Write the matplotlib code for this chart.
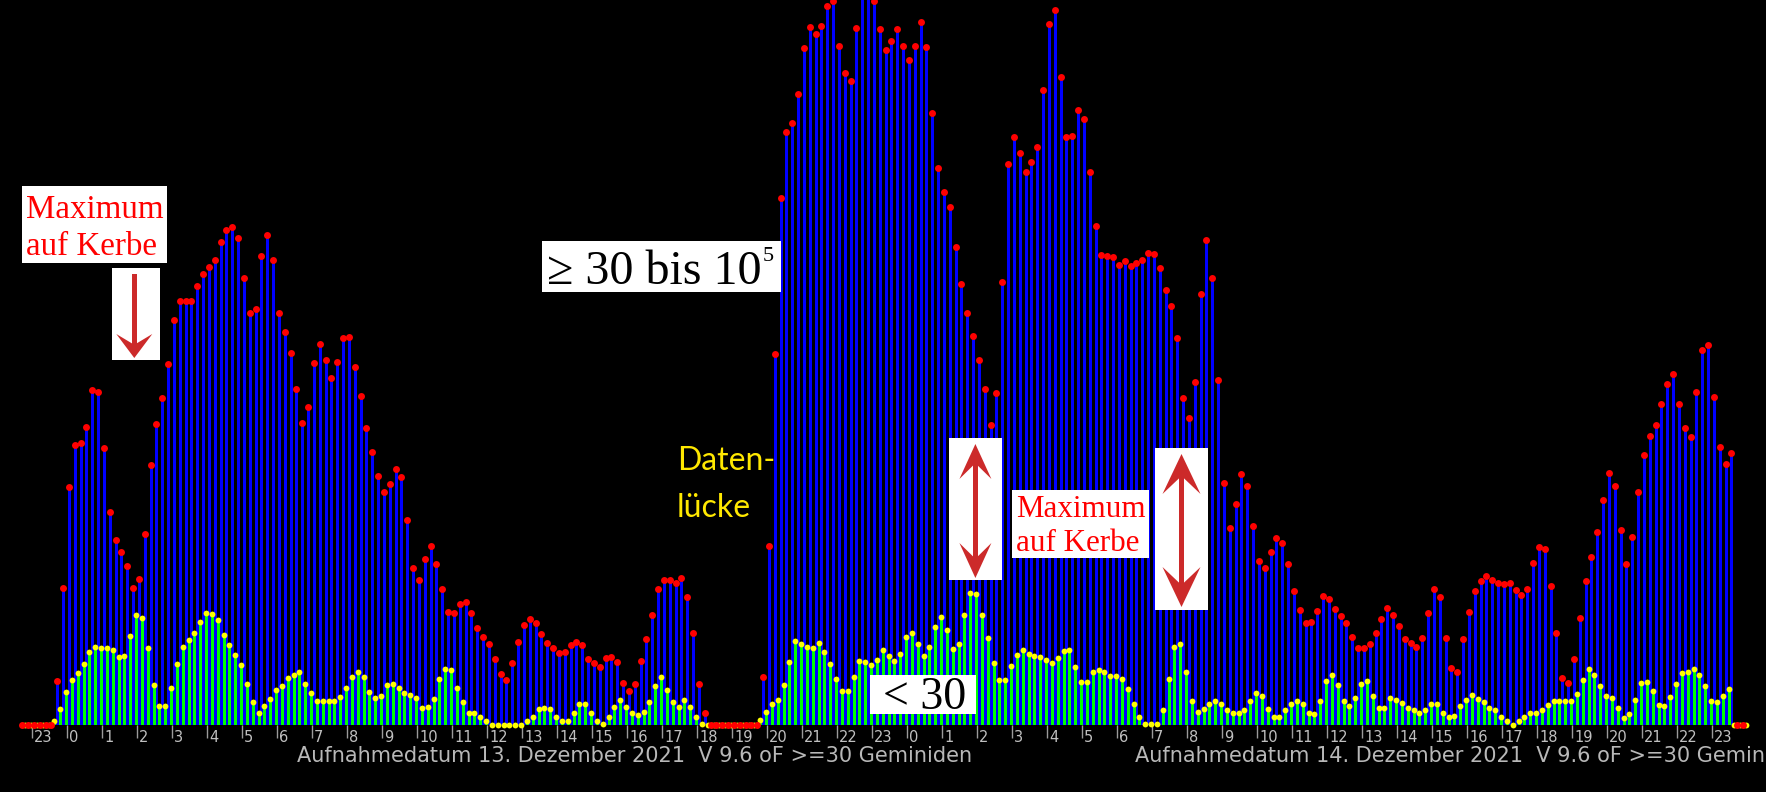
import numpy as np
import matplotlib.pyplot as plt
from matplotlib.patches import Rectangle, Polygon

W, H = 1766, 792

# Echos je 10 Minuten (12.12. 23 Uhr bis 14.12. 24 Uhr), Hoehe ueber Grundlinie
echo_ge30 = [0, 0, 0, 0, 0, 0,
    44, 137, 238, 280, 282, 298, 335, 333, 277, 213, 185, 173, 159, 137, 146,
    191, 260, 301, 327, 361, 405, 424, 424, 424, 439, 451, 458, 465, 483, 495,
    498, 487, 447, 412, 416, 469, 490, 465, 412, 393, 372, 336, 302, 318, 362,
    381, 365, 347, 363, 387, 388, 358, 329, 297, 273, 249, 233, 241, 256, 248,
    205, 157, 145, 166, 179, 161, 136, 113, 112, 121, 123, 112, 97, 88, 81,
    66, 51, 45, 62, 83, 100, 106, 102, 91, 82, 77, 72, 73, 80, 83, 80, 66, 62, 58, 67,
    68, 63, 42, 34, 41, 64, 86, 110, 136, 145, 145, 142, 147, 128, 92, 41, 12,
    0, 0, 0, 0, 0, 0, 0, 0, 0,
    48, 179, 371, 527, 593, 602, 631, 677, 698, 691, 699, 719, 724, 679, 652,
    644, 697, 745, 745, 724, 696, 675, 684, 696, 679,
    665, 679, 703, 678, 612, 557, 533, 518, 478, 441, 412, 389, 365, 336, 300,
    332, 443, 561, 588, 572, 553, 563, 578, 635, 701, 715, 648, 588, 589, 615,
    606, 553, 499, 470, 469, 468, 460, 464, 459, 462, 465, 472, 471, 457, 435,
    419, 387, 327, 307, 343, 431,
    485, 447, 345, 242, 197, 221, 251, 239, 199, 164, 157, 173, 187, 182, 161,
    134, 115, 102, 103, 114, 129, 126, 116, 109, 102, 88, 77, 77, 81, 92,
    106, 117, 110, 99, 86, 82, 78, 87, 112, 136, 128, 87, 57, 53, 86,
    113, 134, 144, 149, 145,
    142, 141, 142, 135, 130, 136, 162, 178, 176, 139, 92, 47, 42, 66, 107,
    144, 168, 193, 225, 252, 239, 195, 161, 188, 233, 270, 289, 300, 321, 341,
    351, 321, 297, 288, 333, 375, 380, 328, 278, 261, 272, 0, 0]

echo_lt30 = [0, 0, 0, 0, 0, 4,
    16, 33, 45, 52, 61, 73, 78, 77, 77, 75, 68, 69, 89, 110, 107, 77, 40, 19, 19,
    37, 61, 78, 85, 92, 103, 112, 111, 105, 90, 80, 70, 60, 41, 23, 12, 19, 26,
    35, 39, 47, 50, 53, 41, 32,
    24, 24, 24, 24, 28, 37, 48, 53, 48, 33, 27, 29, 40, 41, 37, 32, 30, 27, 17, 18,
    26, 46, 56, 55, 37, 23, 12, 12, 8, 4, 0, 0, 0, 0, 0, 0, 4, 8, 16, 17,
    16, 8, 4, 4, 12, 21, 21, 12, 4, 1, 8,
    18, 25, 18, 12, 10, 13, 23, 39, 48, 35, 23, 18, 25, 18, 8, 1, 0,
    0, 0, 0, 0, 0, 0, 0, 0,
    5, 13, 21, 25, 40, 63, 84, 81, 78, 77, 82, 73, 61, 46, 34, 34, 48, 64, 63, 60,
    65, 75, 69, 64, 71,
    88, 92, 81, 69, 78, 98, 108, 95, 76, 81, 110, 132, 131, 110, 87, 62, 45, 45, 59, 70,
    75, 71, 69, 68, 65, 62, 67, 74, 75, 58, 43, 43, 53, 55, 53, 49, 49, 46, 36, 21,
    8, 1, 1, 1, 15, 46, 78, 81, 53, 24, 13,
    16, 21, 24, 21, 15, 12, 12, 15, 24, 32, 29, 16, 8, 8, 15, 21, 24, 21, 12, 11,
    24, 44, 50, 40, 24, 19, 27, 41, 44, 29, 17, 17, 27, 25, 22, 17, 15, 12, 15, 21,
    21, 12, 8, 9, 19, 25, 30, 26, 23, 17, 15,
    8, 4, 0, 4, 8, 12, 12, 15, 20, 24, 24, 24, 24, 31, 45, 56, 50, 39, 29, 27,
    17, 7, 11, 25, 42, 43, 34, 20, 19, 28, 41, 52, 53, 56, 50, 39, 24, 23, 29, 36,
    0, 0, 0]

hour_labels = ["23"] + [str(h) for h in range(24)] * 2
hour_ticks = np.arange(-1, 48)
caption = "Aufnahmedatum {}. Dezember 2021  V 9.6 oF >=30 Geminiden"

assert len(echo_ge30) == len(echo_lt30)

# Zeitachse in Stunden ab 13.12. 0 Uhr, 6 Werte pro Stunde
t = -1.2857 + np.arange(len(echo_ge30)) / 6

fig = plt.figure(figsize=(W / 100, H / 100), dpi=100, facecolor='black')
ax = fig.add_axes([0, (H - 725) / H, 1, 725 / H])
ax.set_facecolor('black')
ax.set_xlim(-32.3 / 35 - 1, (W - 32.3) / 35 - 1)
ax.set_ylim(0, 725)
for s in ax.spines.values():
    s.set_visible(False)
ax.set_yticks([])

ax.vlines(t, 0, echo_ge30, colors='#0000ff', lw=1.8, antialiased=False, zorder=2)
ax.vlines(t + 1 / 12, 0, echo_lt30, colors='#00ff00', lw=1.8,
          antialiased=False, zorder=2)
ax.plot(t + 1 / 12, echo_lt30, 'o', ms=4.2, color='#ffff00', mec='none',
        clip_on=False, zorder=3)
ax.plot(t, echo_ge30, 'o', ms=5, color='#ff0000', mec='none',
        clip_on=False, zorder=4)

ax.set_xticks(hour_ticks)
ax.tick_params(axis='x', length=9, width=1, color='#9a9a9a', labelbottom=False)
for h, lab in zip(hour_ticks, hour_labels):
    ax.text(h + 0.05, -5, lab, ha='left', va='top', fontsize=10.5,
            color='#c0c0c0', clip_on=False)
# die zweite Zeile laeuft wie im Original ueber den rechten Rand hinaus
ax.text(6.55, -36.7, caption.format(13), fontsize=15, color='#b8b8b8',
        va='baseline', clip_on=False)
ax.text(30.5, -36.7, caption.format(14), fontsize=15, color='#b8b8b8',
        va='baseline', clip_on=False)


# Beschriftungen in Bildpixeln (oben links = 0, 0)
def fx(x, y):
    return x / W, 1 - y / H


def box(x0, y0, x1, y1):
    fig.add_artist(Rectangle(fx(x0, y1), (x1 - x0) / W, (y1 - y0) / H,
                             transform=fig.transFigure, facecolor='white',
                             edgecolor='none', zorder=5))


def label(x, y, s, **kw):
    fig.text(x / W, 1 - y / H, s, va='baseline', zorder=6, **kw)


def head(cx, ytip, d, w, L):
    pts = [(cx, ytip), (cx - w, ytip - d * L), (cx, ytip - d * 0.55 * L),
           (cx + w, ytip - d * L)]
    fig.add_artist(Polygon([fx(*p) for p in pts], closed=True,
                           transform=fig.transFigure, facecolor='#cc2a2a',
                           edgecolor='none', zorder=6))


def shaft(cx, y0, y1, lw=4.5):
    fig.add_artist(Rectangle(fx(cx - lw / 2, y1), lw / W, (y1 - y0) / H,
                             transform=fig.transFigure, facecolor='#cc2a2a',
                             edgecolor='none', zorder=6))


serif = 'Liberation Serif'

box(22, 186, 167, 263)
label(26, 218, "Maximum", color='red', fontsize=23.8, family=serif)
label(26, 255, "auf Kerbe", color='red', fontsize=23.8, family=serif)
box(112, 268, 160, 360)
shaft(134.3, 274, 346)
head(134.3, 358, 1, 18, 24)

box(542, 241, 781, 292)
label(547, 284, "\u2265 30 bis 10", color='black', fontsize=34.6, family=serif)
label(763, 261, "5", color='black', fontsize=16, family=serif)

label(677, 470, "Daten-", color='#ffe800', fontsize=23, family='Lato')
label(677, 517, "l\u00fccke", color='#ffe800', fontsize=23, family='Lato')

box(870, 675, 976, 714)
label(883, 709, "< 30", color='black', fontsize=33, family=serif)

box(949, 438, 1002, 580)
shaft(975.4, 460, 562)
head(975.4, 444, -1, 16, 35)
head(975.4, 578, 1, 16, 35)

box(1012, 490, 1149, 558)
label(1016, 517, "Maximum", color='red', fontsize=22.3, family=serif)
label(1016, 551, "auf Kerbe", color='red', fontsize=22.3, family=serif)

box(1155, 448, 1208, 610)
shaft(1181.5, 474, 587)
head(1181.5, 454, -1, 19, 40)
head(1181.5, 607, 1, 19, 40)

fig.savefig('out.png', dpi=100, facecolor='black')
